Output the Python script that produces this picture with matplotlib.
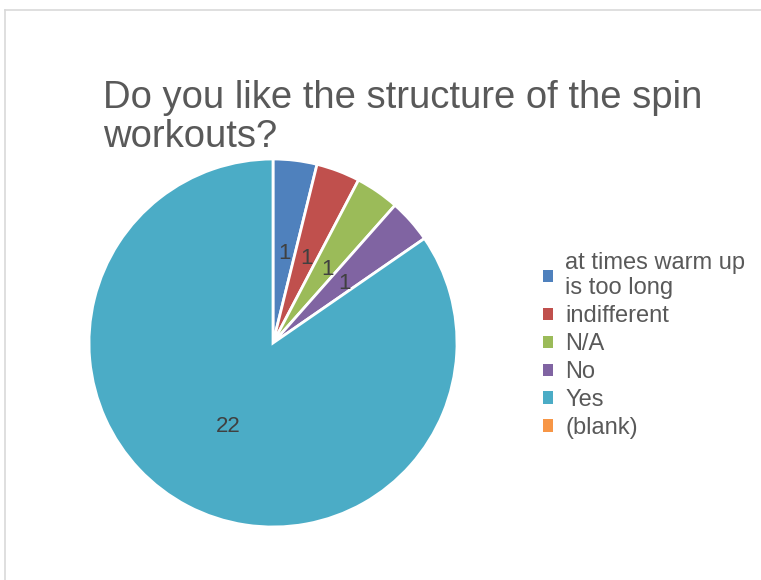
import numpy as np
import matplotlib.pyplot as plt
from matplotlib.patches import Rectangle
from matplotlib.lines import Line2D

# survey answers
answers = ["at times warm up\nis too long", "indifferent", "N/A", "No", "Yes", "(blank)"]
counts = [1, 1, 1, 1, 22, 0]
colors = ["#4F81BD", "#C0504D", "#9BBB59", "#8064A2", "#4BACC6", "#F79646"]

plt.rcParams['font.family'] = ['Liberation Sans', 'DejaVu Sans']

W, H = 761, 580
fig = plt.figure(figsize=(W / 100, H / 100), dpi=100)

# chart frame (left and top edges only)
fig.add_artist(Line2D([5 / W, 5 / W], [0, 1 - 10 / H], color="#d9d9d9", lw=1.2))
fig.add_artist(Line2D([5 / W, 1], [1 - 10 / H, 1 - 10 / H], color="#d9d9d9", lw=1.2))

cx, cy, r = 273, H - 343, 184
ax = fig.add_axes([(cx - r) / W, (cy - r) / H, 2 * r / W, 2 * r / H])
shown = [(c, col) for c, col in zip(counts, colors) if c > 0]
wedges, _ = ax.pie([c for c, _ in shown], colors=[col for _, col in shown],
                   startangle=90, counterclock=False, radius=1,
                   wedgeprops=dict(edgecolor="white", linewidth=2))
ax.set_xlim(-1, 1)
ax.set_ylim(-1, 1)
ax.set_aspect("equal")

# value labels inside the slices
for w, (c, _) in zip(wedges, shown):
    ang = np.deg2rad((w.theta1 + w.theta2) / 2)
    ax.text(0.52 * np.cos(ang), 0.5 * np.sin(ang) - 0.01, str(c), ha="center", va="center",
            fontsize=16, color="#404040")

fig.text(103 / W, 1 - 80 / H, "Do you like the structure of the spin\nworkouts?",
         ha="left", va="top", fontsize=27.5, color="#595959", linespacing=1.12)

handles = [Rectangle((0, 0), 1, 1, facecolor=c, edgecolor="none") for c in colors]
fig.legend(handles, answers, loc="upper left", bbox_to_anchor=(543 / W, 1 - 252 / H),
           frameon=False, fontsize=17, labelcolor="#595959",
           handlelength=0.42, handleheight=0.42, handletextpad=0.52,
           labelspacing=0.25, borderpad=0, borderaxespad=0)

fig.savefig("out.png", dpi=100)
